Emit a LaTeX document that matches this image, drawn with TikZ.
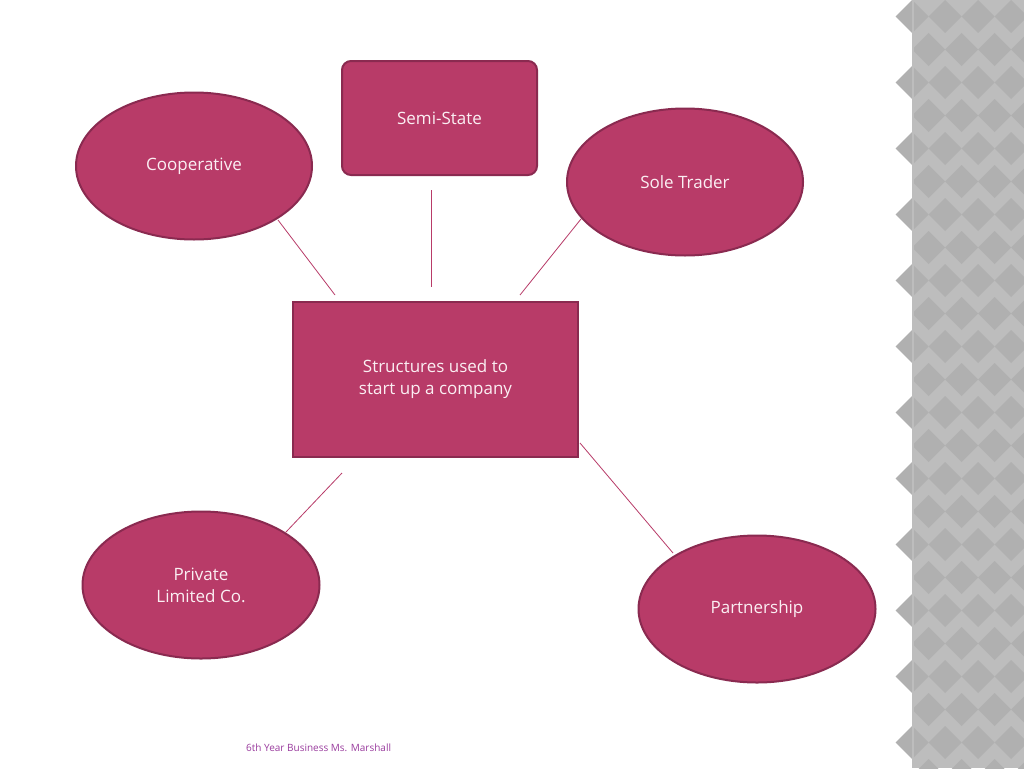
\documentclass[tikz,border=0pt]{standalone}
\usepackage{fontspec}
\setmainfont{Open Sans}
\usetikzlibrary{shapes.geometric}
\definecolor{fillc}{HTML}{B83B68}
\definecolor{edgec}{HTML}{8A2A50}
\definecolor{txt}{HTML}{FBEFF3}
\definecolor{foot}{HTML}{9A3C9E}
\begin{document}
\begin{tikzpicture}[x=1pt,y=-1pt,
  box/.style={draw=edgec,line width=2pt,fill=fillc,text=txt,font=\fontsize{17}{22}\selectfont,align=center,inner sep=0pt},
  ell/.style={box,ellipse},
  link/.style={draw=fillc,line width=0.8pt}]
\useasboundingbox (0,0) rectangle (1024,768);
\fill[white] (0,0) rectangle (1024,768);
\fill[gray!52] (912,0) rectangle (1024,768);
\foreach \i in {0,...,4}{\foreach \j in {0,...,24}{
  \fill[gray!62] ({912+\i*33+((mod(\j,2))*16.5)},{\j*33}) -- ++(16.5,16.5) -- ++(-16.5,16.5) -- ++(-16.5,-16.5) -- cycle;}}
\fill[gray!52] (912,0) rectangle (914,768);
\node[box,minimum width=285pt,minimum height=155pt] (c) at (435.5,379.5) {Structures used to\\start up a company};
\node[box,rounded corners=9pt,minimum width=195pt,minimum height=114pt] (s) at (439.5,118) {Semi-State};
\node[ell,minimum width=236pt,minimum height=147pt] (co) at (194,166) {Cooperative};
\node[ell,minimum width=236pt,minimum height=147pt] (st) at (685,182) {Sole Trader};
\node[ell,minimum width=237pt,minimum height=147pt] (pl) at (201,585) {Private\\Limited Co.};
\node[ell,minimum width=237pt,minimum height=147pt] (pa) at (757,609) {Partnership};
\coordinate (a1) at (278,220); \coordinate (a2) at (335,295);
\coordinate (b1) at (431,190); \coordinate (b2) at (431,287);
\coordinate (d1) at (581,219); \coordinate (d2) at (520,295);
\coordinate (e1) at (286,532); \coordinate (e2) at (342,473);
\coordinate (f1) at (580,443); \coordinate (f2) at (673,553);
\draw[link] (a1) -- (a2);
\draw[link] (b1) -- (b2);
\draw[link] (d1) -- (d2);
\draw[link] (e1) -- (e2);
\draw[link] (f1) -- (f2);
\node[text=foot,font=\fontsize{10}{12}\selectfont,anchor=west,inner sep=0pt] (ft) at (246,748) {6th Year Business Ms. Marshall};
\end{tikzpicture}
\end{document}
